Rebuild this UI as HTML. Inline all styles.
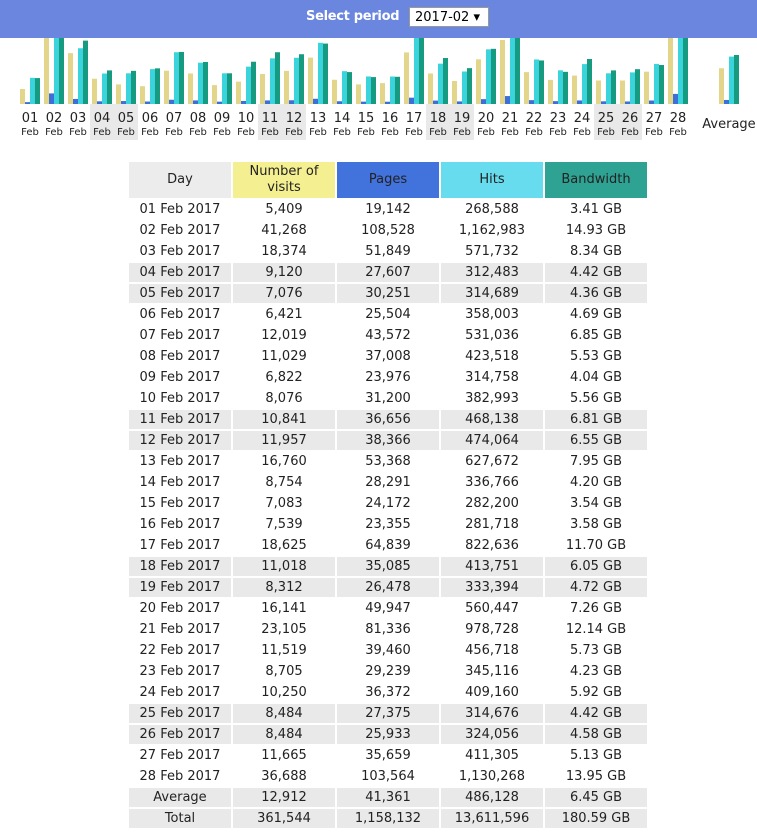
<!DOCTYPE html>
<html><head><meta charset="utf-8">
<style>
body{margin:0;width:757px;height:838px;overflow:hidden;background:#fff;font-family:"DejaVu Sans","Liberation Sans",sans-serif;position:relative}
#hdr{position:absolute;left:0;top:0;width:757px;height:38px;background:#6a86de;z-index:2;text-align:center}
#hdr .lbl{position:absolute;left:306px;top:9px;color:#fff;font-weight:bold;font-family:"DejaVu Sans","Liberation Sans",sans-serif;font-size:13px;letter-spacing:-0.3px}
#sel{position:absolute;left:409px;top:7px;width:80px;height:20px;background:#fff;border:1px solid #999;font-size:13px;line-height:19px;text-align:left;padding-left:5px;box-sizing:border-box;color:#000}
#chart{position:absolute;left:0;top:38px;width:757px;height:102px}
table{position:absolute;left:127px;top:160px;border-collapse:separate;border-spacing:2px;font-size:13px}
td,th{width:102px;height:19px;padding:0;text-align:center;font-weight:normal;color:#222}
th{height:36px;line-height:16px}
tr.g td{background:#e9e9e9}
</style></head><body>
<div id="hdr">
<span class="lbl">Select period</span>
<div id="sel">2017-02 ▾</div>
</div>
<svg id="chart" width="757" height="102"></svg>
<table id="tbl">
<thead><tr>
<th style="background:#ececec">Day</th>
<th style="background:#f4ef90">Number of<br>visits</th>
<th style="background:#4272dc">Pages</th>
<th style="background:#66dcee">Hits</th>
<th style="background:#2ea394">Bandwidth</th>
</tr></thead><tbody id="tb"></tbody></table>
<script>
const days=["01","02","03","04","05","06","07","08","09","10","11","12","13","14","15","16","17","18","19","20","21","22","23","24","25","26","27","28"];
const weekend=["04","05","11","12","18","19","25","26"];
const visits=[5409,41268,18374,9120,7076,6421,12019,11029,6822,8076,10841,11957,16760,8754,7083,7539,18625,11018,8312,16141,23105,11519,8705,10250,8484,8484,11665,36688];
const pages=[19142,108528,51849,27607,30251,25504,43572,37008,23976,31200,36656,38366,53368,28291,24172,23355,64839,35085,26478,49947,81336,39460,29239,36372,27375,25933,35659,103564];
const hits=[268588,1162983,571732,312483,314689,358003,531036,423518,314758,382993,468138,474064,627672,336766,282200,281718,822636,413751,333394,560447,978728,456718,345116,409160,314676,324056,411305,1130268];
const bw=[3.41,14.93,8.34,4.42,4.36,4.69,6.85,5.53,4.04,5.56,6.81,6.55,7.95,4.20,3.54,3.58,11.70,6.05,4.72,7.26,12.14,5.73,4.23,5.92,4.42,4.58,5.13,13.95];
const avg=[12912,41361,486128,6.45];
const avgText=["12,912","41,361","486,128","6.45 GB"];
const totText=["361,544","1,158,132","13,611,596","180.59 GB"];
const NS="http://www.w3.org/2000/svg",svg=document.getElementById('chart');
const base=66;
const yV=v=>v*0.00277, yP=v=>v*0.0000975, yB=v=>v*7.6;
const cols=["#e3d68a","#3d6fd8","#3bd3dc","#179b80"];
const xGroup=i=>20+i*24;
function bar(x,h,c,name){const r=document.createElementNS(NS,'rect');r.setAttribute('x',x);r.setAttribute('y',base-h);r.setAttribute('width',5);r.setAttribute('height',Math.max(h,0));r.setAttribute('fill',c);


svg.appendChild(r);}
function txt(x,y,s,size,name){const t=document.createElementNS(NS,'text');t.setAttribute('x',x);t.setAttribute('y',y);t.setAttribute('font-size',size);t.setAttribute('text-anchor','middle');t.setAttribute('fill','#222');t.textContent=s;


svg.appendChild(t);}
days.forEach((d,i)=>{const x=xGroup(i);
if(weekend.includes(d)){const r=document.createElementNS(NS,'rect');r.setAttribute('x',x-2);r.setAttribute('y',base);r.setAttribute('width',24);r.setAttribute('height',36);r.setAttribute('fill','#e9e9e9');


svg.appendChild(r);}
bar(x,yV(visits[i]),cols[0],'visits-bar-'+d);
bar(x+5,yP(pages[i]),cols[1],'pages-bar-'+d);
bar(x+10,yP(hits[i]),cols[2],'hits-bar-'+d);
bar(x+15,yB(bw[i]),cols[3],'bandwidth-bar-'+d);
txt(x+10,base+18,d,13,'day-label-'+d);
txt(x+10,base+31,'Feb',10,'month-label-'+d);
});
const ax=719;
bar(ax,yV(avg[0]),cols[0],'visits-bar-average');
bar(ax+5,yP(avg[1]),cols[1],'pages-bar-average');
bar(ax+10,yP(avg[2]),cols[2],'hits-bar-average');
bar(ax+15,yB(avg[3]),cols[3],'bandwidth-bar-average');
txt(729,base+24,'Average',13,'average-label');
const f=n=>n.toLocaleString('en-US');
const tb=document.getElementById('tb');
function row(cells,gray,name){const tr=document.createElement('tr');if(gray)tr.className='g';


cells.forEach(c=>{const td=document.createElement('td');td.textContent=c;tr.appendChild(td);});tb.appendChild(tr);}
days.forEach((d,i)=>row([d+' Feb 2017',f(visits[i]),f(pages[i]),f(hits[i]),bw[i].toFixed(2)+' GB'],weekend.includes(d),'row-'+d));
row(['Average'].concat(avgText),true,'average-row');
row(['Total'].concat(totText),true,'total-row');
</script>
</body></html>
